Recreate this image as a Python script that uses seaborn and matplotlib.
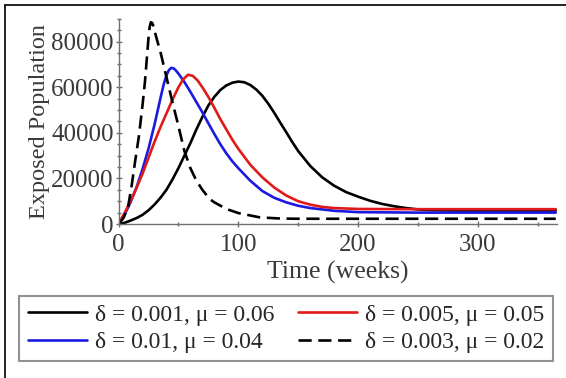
import numpy as np
import pandas as pd
import matplotlib
matplotlib.use('Agg')
import matplotlib.pyplot as plt
import seaborn as sns
from matplotlib.lines import Line2D
from matplotlib.ticker import MultipleLocator

# values (weeks, exposed population)

# delta = 0.001, mu = 0.06 (black solid)
weeks_a = [0, 5, 10, 15, 20, 25, 30, 35, 40, 45, 50, 55, 60, 65, 70, 75, 80, 85,
           90, 95, 100, 105, 110, 115, 120, 125, 130, 135, 140, 145, 150, 160,
           170, 180, 190, 200, 210, 220, 230, 240, 250, 260, 280, 365]
exposed_a = [0, 500, 1500, 2600, 4000, 6000, 8500, 11500, 15000, 19500, 24500,
             30000, 35500, 41500, 47000, 52000, 55800, 58800, 60800, 62000, 62500,
             62200, 61000, 59000, 56300, 52800, 48800, 44500, 40300, 36000, 32000,
             25500, 20500, 16800, 14000, 12000, 10200, 8800, 7800, 7000, 6400,
             6100, 5900, 5900]

# delta = 0.005, mu = 0.05 (red)
weeks_b = [0, 5, 10, 15, 20, 25, 30, 35, 40, 45, 50, 54, 58, 62, 66, 70, 75, 80,
           85, 90, 95, 100, 110, 120, 130, 140, 150, 160, 170, 180, 200, 250, 365]
exposed_b = [0, 4800, 10000, 15800, 22000, 29000, 36000, 42500, 48500, 54500,
             60000, 63500, 65500, 65000, 63000, 60000, 55800, 51000, 46000, 41500,
             37000, 33000, 26000, 20500, 16000, 12500, 10000, 8500, 7500, 7000,
             6600, 6500, 6500]

# delta = 0.01, mu = 0.04 (blue)
weeks_c = [0, 5, 10, 15, 20, 25, 30, 33, 36, 38, 40, 42, 44, 46, 48, 50, 55, 60,
           65, 70, 75, 80, 85, 90, 95, 100, 110, 120, 130, 140, 150, 160, 180,
           200, 250, 365]
exposed_c = [0, 4000, 9500, 16000, 24000, 33000, 43500, 50500, 57500, 61800,
             65200, 67500, 68500, 68300, 67300, 66000, 62300, 58000, 53500, 49000,
             44200, 39500, 35000, 31000, 27500, 24500, 19000, 14500, 11500, 9500,
             8000, 7000, 5800, 5200, 5000, 5000]

# delta = 0.003, mu = 0.02 (black dashed)
weeks_d = [0, 4, 8, 11, 14, 17, 20, 22, 24, 25, 26, 27, 28, 29, 30, 32, 35, 40,
           45, 50, 55, 60, 65, 70, 76, 80, 90, 100, 118, 135, 150, 365]
exposed_d = [0, 2500, 7500, 17000, 28000, 38500, 52000, 62000, 75000, 81500,
             86500, 88500, 88300, 87000, 85000, 81000, 75500, 64500, 53500, 43000,
             32000, 24500, 19000, 15000, 11000, 9500, 6600, 4800, 2900, 2400,
             2300, 2300]

labels = ['δ = 0.001, μ = 0.06', 'δ = 0.01, μ = 0.04',
          'δ = 0.005, μ = 0.05', 'δ = 0.003, μ = 0.02']

sns.set_style('white')
plt.rcParams['font.family'] = ['Liberation Serif', 'DejaVu Serif']

fig = plt.figure(figsize=(5.66, 3.78), dpi=100)
ax = fig.add_axes([0.2094, 0.4074, 0.7746, 0.5426])

lw = 1.9
sns.lineplot(x=weeks_a, y=exposed_a, ax=ax, color='black', lw=lw, label=labels[0])
sns.lineplot(x=weeks_c, y=exposed_c, ax=ax, color='#1a1ae0', lw=lw, label=labels[1])
sns.lineplot(x=weeks_b, y=exposed_b, ax=ax, color='#e01a1a', lw=lw, label=labels[2])
sns.lineplot(x=weeks_d, y=exposed_d, ax=ax, color='black', lw=lw,
             linestyle=(0, (5, 2.5)), label=labels[3])

ax.set_xlim(0, 366)
ax.set_ylim(0, 90000)
ax.xaxis.set_major_locator(MultipleLocator(100))
ax.xaxis.set_minor_locator(MultipleLocator(50))
ax.yaxis.set_major_locator(MultipleLocator(20000))
ax.yaxis.set_minor_locator(MultipleLocator(5000))

for side in ['top', 'right']:
    ax.spines[side].set_visible(False)
for side in ['left', 'bottom']:
    ax.spines[side].set_color('#707070')
    ax.spines[side].set_linewidth(1.0)

ax.tick_params(which='major', direction='inout', length=5, width=1,
               color='#707070', labelsize=18, labelcolor='#3a3a3a')
ax.tick_params(axis='x', which='major', pad=5)
ax.tick_params(axis='y', which='major', pad=1)
ax.tick_params(which='minor', direction='inout', length=3, width=1,
               color='#707070')
ax.tick_params(axis='both', which='both', bottom=True, left=True)

ax.set_xlabel('Time (weeks)', fontsize=18.5, color='#3a3a3a', labelpad=3)
ax.set_ylabel('Exposed Population', fontsize=17.5, color='#3a3a3a', labelpad=1)

ax.get_legend().remove()
handles, lbls = ax.get_legend_handles_labels()
leg = fig.legend(handles, lbls, ncol=2, loc='center',
                 bbox_to_anchor=(286 / 566, 1 - 328.5 / 378),
                 fontsize=17, frameon=True, fancybox=False,
                 handlelength=2.5, handletextpad=0.35, columnspacing=1.0,
                 labelspacing=0.25, borderpad=0.35, borderaxespad=0)
leg.get_frame().set_edgecolor('#777777')
leg.get_frame().set_linewidth(1.5)

# figure border on top and left
fig.add_artist(Line2D([5 / 566, 1], [1 - 5 / 378, 1 - 5 / 378], color='black', lw=1.2))
fig.add_artist(Line2D([5 / 566, 5 / 566], [0, 1 - 5 / 378], color='black', lw=1.2))

fig.savefig('out.png', dpi=100)
